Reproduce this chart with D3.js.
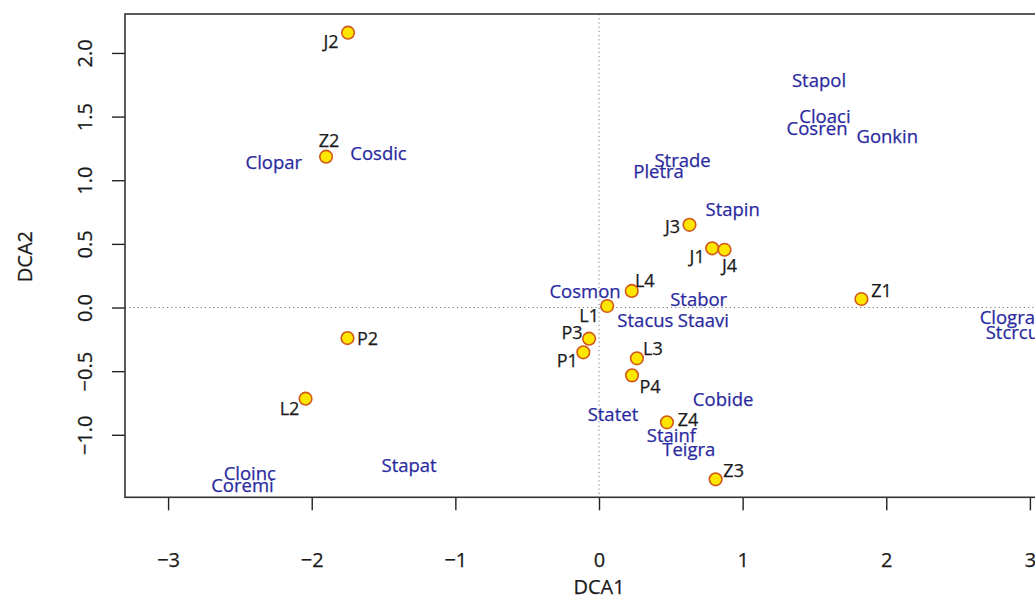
<!DOCTYPE html>
<html>
<head>
<meta charset="utf-8">
<script src="https://cdn.jsdelivr.net/npm/d3@7"></script>
<style>
  html, body { margin: 0; padding: 0; background: #fff; }
  svg { display: block; }
  text { font-family: "Open Sans", "DejaVu Sans", sans-serif; }
</style>
</head>
<body>
<svg id="chart" width="1035" height="599"></svg>
<script>
// DCA ordination: site scores (points) and species scores (labels)
const siteNames = ["J2", "Z2", "J3", "J1", "J4", "L4", "Z1", "L1", "P3", "P1", "L3", "P4", "Z4", "Z3", "P2", "L2"];
const siteDCA1  = [-1.747, -1.900, 0.630, 0.788, 0.874, 0.228, 1.827, 0.057, -0.069, -0.109, 0.264, 0.230, 0.473, 0.812, -1.751, -2.043];
const siteDCA2  = [2.159, 1.185, 0.650, 0.465, 0.454, 0.130, 0.067, 0.012, -0.245, -0.352, -0.399, -0.533, -0.902, -1.350, -0.240, -0.716];

const speciesNames = ["Stapol", "Cloaci", "Cosren", "Gonkin", "Strade", "Pletra", "Stapin", "Cosmon", "Stabor",
                      "Stacus", "Staavi", "Clogra", "Stcrcu", "Cobide", "Statet", "Stainf", "Teigra",
                      "Clopar", "Cosdic", "Stapat", "Cloinc", "Coremi"];
const speciesDCA1  = [1.532, 1.573, 1.518, 2.007, 0.582, 0.415, 0.931, -0.097, 0.694,
                      0.323, 0.727, 2.843, 2.878, 0.864, 0.097, 0.504, 0.625,
                      -2.264, -1.535, -1.322, -2.431, -2.482];
const speciesDCA2  = [1.793, 1.510, 1.418, 1.355, 1.164, 1.078, 0.779, 0.137, 0.067,
                      -0.093, -0.093, -0.067, -0.190, -0.713, -0.831, -0.994, -1.106,
                      1.148, 1.216, -1.237, -1.295, -1.387];

const xTicks = [-3, -2, -1, 0, 1, 2, 3];
const yTicks = [-1.0, -0.5, 0.0, 0.5, 1.0, 1.5, 2.0];
const xTitle = "DCA1";
const yTitle = "DCA2";

// label placement around each site point (pixels, label centre relative to point)
const siteLabelOffset = {
  J2: [-17, 8], Z2: [3, -17], J3: [-17, 1], J1: [-15, 8], J4: [5, 15], L4: [13, -11],
  Z1: [20, -9], L1: [-18, 9], P3: [-17, -7], P1: [-16, 8], L3: [16, -10], P4: [18, 11],
  Z4: [21, -3], Z3: [18, -9], P2: [20, 0], L2: [-16, 9]
};

const svg = d3.select("#chart");
const plot = { left: 125, top: 14, bottom: 497.3, right: 1073 };

const x = d3.scaleLinear().domain([-3.30, 3.30]).range([plot.left, plot.right]);
const y = d3.scaleLinear().domain([-1.491, 2.306]).range([plot.bottom, plot.top]);

const minus = v => (v < 0 ? "\u2212" : "");
const ink = "#1a1a1a";

// zero reference lines
svg.append("line")
  .attr("x1", x(0)).attr("x2", x(0)).attr("y1", plot.top).attr("y2", plot.bottom)
  .attr("stroke", "#777").attr("stroke-width", 1).attr("stroke-dasharray", "1.2,3");
svg.append("line")
  .attr("x1", plot.left).attr("x2", plot.right).attr("y1", y(0)).attr("y2", y(0))
  .attr("stroke", "#777").attr("stroke-width", 1).attr("stroke-dasharray", "1.2,3");

// x axis
const gx = svg.append("g").attr("transform", `translate(0,${plot.bottom})`)
  .call(d3.axisBottom(x).tickValues(xTicks).tickSize(13).tickPadding(43)
    .tickFormat(d => minus(d) + Math.abs(d)));
gx.select(".domain").remove();
gx.selectAll(".tick line").attr("stroke", "#222").attr("stroke-width", 1.4);
gx.selectAll(".tick text").attr("font-size", 20).attr("fill", ink)
  .attr("stroke", ink).attr("stroke-width", 0.25)
  .attr("font-family", "'Open Sans', sans-serif");

// y axis
const gy = svg.append("g").attr("transform", `translate(${plot.left},0)`)
  .call(d3.axisLeft(y).tickValues(yTicks).tickSize(13)
    .tickFormat(d => minus(d) + d3.format(".1f")(Math.abs(d))));
gy.select(".domain").remove();
gy.selectAll(".tick line").attr("stroke", "#222").attr("stroke-width", 1.4);
gy.selectAll(".tick text")
  .attr("x", null).attr("dy", null)
  .attr("text-anchor", "middle")
  .attr("dominant-baseline", "central")
  .attr("transform", "translate(-41,0) rotate(-90)")
  .attr("font-size", 20).attr("fill", ink)
  .attr("stroke", ink).attr("stroke-width", 0.25)
  .attr("font-family", "'Open Sans', sans-serif");

// plot frame
svg.append("rect")
  .attr("x", plot.left).attr("y", plot.top)
  .attr("width", plot.right - plot.left).attr("height", plot.bottom - plot.top)
  .attr("fill", "none").attr("stroke", "#333").attr("stroke-width", 1.6);

// axis titles
svg.append("text").attr("x", x(0)).attr("y", 586)
  .attr("text-anchor", "middle").attr("dominant-baseline", "central")
  .attr("font-size", 20).attr("fill", ink).attr("stroke", ink).attr("stroke-width", 0.25)
  .text(xTitle);
svg.append("text").attr("transform", `translate(24,${y(0.4)}) rotate(-90)`)
  .attr("text-anchor", "middle").attr("dominant-baseline", "central")
  .attr("font-size", 20).attr("fill", ink).attr("stroke", ink).attr("stroke-width", 0.25)
  .text(yTitle);

// species scores as labels
const species = speciesNames.map((n, i) => ({ name: n, a: speciesDCA1[i], b: speciesDCA2[i] }));
svg.append("g").selectAll("text").data(species).join("text")
  .attr("x", d => x(d.a)).attr("y", d => y(d.b))
  .attr("text-anchor", "middle").attr("dominant-baseline", "central")
  .attr("font-size", 18.5).attr("fill", "#2a2aa0")
  .attr("stroke", "#2a2aa0").attr("stroke-width", 0.25)
  .text(d => d.name);

// site scores as points with labels
const sites = siteNames.map((n, i) => ({ name: n, a: siteDCA1[i], b: siteDCA2[i] }));
const gs = svg.append("g");
gs.selectAll("circle").data(sites).join("circle")
  .attr("cx", d => x(d.a)).attr("cy", d => y(d.b)).attr("r", 6.3)
  .attr("fill", "#ffe600").attr("stroke", "#d2581a").attr("stroke-width", 1.6);
gs.selectAll("text").data(sites).join("text")
  .attr("x", d => x(d.a) + siteLabelOffset[d.name][0])
  .attr("y", d => y(d.b) + siteLabelOffset[d.name][1])
  .attr("text-anchor", "middle").attr("dominant-baseline", "central")
  .attr("font-size", 18).attr("fill", ink)
  .attr("stroke", ink).attr("stroke-width", 0.25)
  .text(d => d.name);
</script>
</body>
</html>
